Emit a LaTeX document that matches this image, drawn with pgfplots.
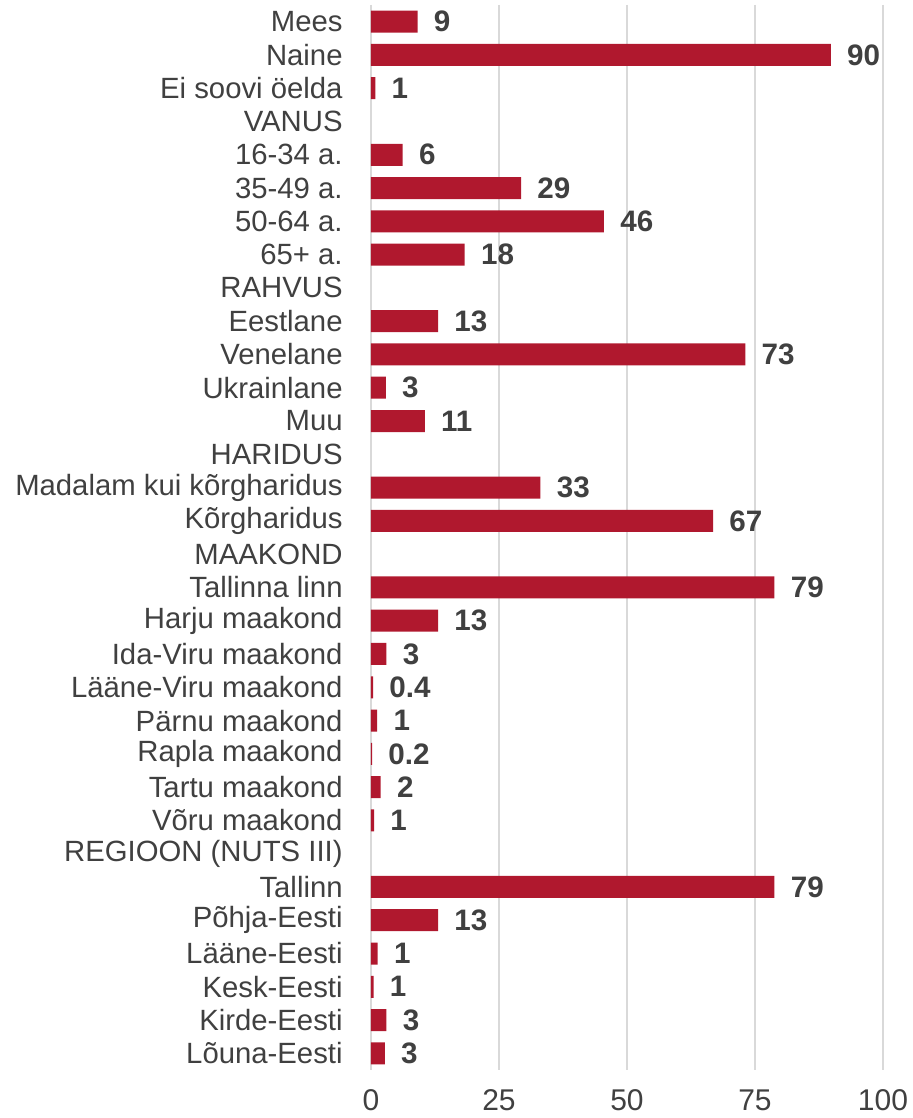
\documentclass[border=0pt]{standalone}
\usepackage{fontspec}
\setmainfont{Liberation Sans}
\usepackage{pgfplots}
\usepackage{pgfplotstable}
\pgfplotsset{compat=1.18}
\definecolor{barred}{RGB}{176,24,46}
\definecolor{txtgray}{RGB}{64,64,64}
\definecolor{gridgray}{RGB}{217,217,217}
\pgfplotstableread{
i v lab
0 9.1 9
1 89.8 90
2 0.85 1
4 6.2 6
5 29.3 29
6 45.5 46
7 18.3 18
9 13.1 13
10 73.1 73
11 2.9 3
12 10.5 11
14 33.1 33
15 66.8 67
17 78.8 79
18 13.1 13
19 3.0 3
20 0.4 0.4
21 1.2 1
22 0.2 0.2
23 1.9 2
24 0.6 1
26 78.8 79
27 13.1 13
28 1.3 1
29 0.5 1
30 3.0 3
31 2.7 3
}\datatab
\begin{document}
\begin{tikzpicture}
\begin{axis}[
  name=ax,
  scale only axis,
  width=256pt, height=532.5pt,
  xmin=0, xmax=100,
  ymin=-0.5, ymax=31.5,
  y dir=reverse,
  xtick={0,25,50,75,100},
  ytick={0,...,31},
  yticklabels={{Mees},{Naine},{Ei soovi öelda},{VANUS},{16-34 a.},{35-49 a.},{50-64 a.},{65+ a.},{RAHVUS},{Eestlane},{Venelane},{Ukrainlane},{Muu},{HARIDUS},{Madalam kui kõrgharidus},{Kõrgharidus},{MAAKOND},{Tallinna linn},{Harju maakond},{Ida-Viru maakond},{Lääne-Viru maakond},{Pärnu maakond},{Rapla maakond},{Tartu maakond},{Võru maakond},{REGIOON (NUTS III)},{Tallinn},{Põhja-Eesti},{Lääne-Eesti},{Kesk-Eesti},{Kirde-Eesti},{Lõuna-Eesti}},
  axis line style={draw=none},
  major tick length=0pt,
  xmajorgrids,
  ymajorgrids=false,
  major grid style={draw=gridgray, line width=0.9pt},
  /pgf/number format/assume math mode=true,
  yticklabel style={font=\fontsize{14.65}{17}\selectfont, text=txtgray, anchor=east, inner sep=0pt, xshift=-14pt},
  xticklabel style={font=\fontsize{15}{18}\selectfont, text=txtgray, anchor=north, inner sep=0pt, yshift=-9.5pt},
  xbar,
  bar width=11pt,
  point meta=explicit symbolic,
  nodes near coords={\pgfplotspointmeta},
  nodes near coords align={horizontal},
  every node near coord/.append style={font=\fontsize{14.8}{17}\selectfont\bfseries, text=txtgray, anchor=west, inner sep=0pt, xshift=8pt},
]
\addplot[fill=barred, draw=none] table[x=v, y=i, meta=lab] {\datatab};
\end{axis}
\pgfresetboundingbox
\path ([shift={(-185.5pt,-24pt)}]ax.south west) rectangle ([shift={(14.5pt,2.5pt)}]ax.north east);
\end{tikzpicture}
\end{document}
